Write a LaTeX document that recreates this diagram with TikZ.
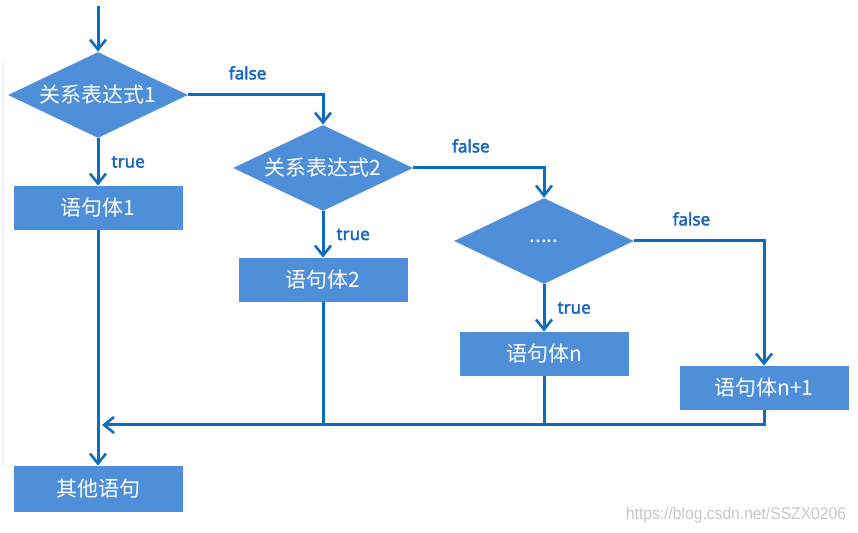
\documentclass[tikz,border=0pt]{standalone}
\usepackage{fontspec}
\setmainfont{Noto Sans CJK SC}
\newfontfamily\labfont{Noto Sans}[AutoFakeBold=2.5]
\newfontfamily\wmfont{Liberation Sans}
\usetikzlibrary{shapes,shapes.geometric,arrows.meta,calc}
\definecolor{boxblue}{HTML}{4F8ED8}
\definecolor{lineblue}{HTML}{0F6CC0}
\definecolor{labblue}{HTML}{1767C2}
\begin{document}
\begin{tikzpicture}
        [x=0.5pt,y=-0.5pt,
        every node/.style={inner sep=0pt,text=white,font=\fontsize{10.5pt}{12pt}\selectfont},
        decision/.style={shape=diamond,fill=boxblue,minimum width=90pt,minimum height=43pt,aspect=2.1},
        stmt/.style={shape=rectangle,fill=boxblue,minimum width=84.5pt,minimum height=22pt},
        flow/.style={draw=lineblue,line width=1.5pt,-{Straight Barb[length=5pt,width=8pt,line width=1.3pt]}},
        wire/.style={draw=lineblue,line width=1.5pt},
        lab/.style={text=labblue,font=\labfont\bfseries\fontsize{8.5pt}{10pt}\selectfont}]
        \useasboundingbox (0,0) rectangle (858,533);
        \draw[color=blue!6,line width=1pt] (3,62) -- (3,466);
        %%
        \coordinate (start) at (98,6);
        \node[decision] (d1) at (98,95) {关系表达式1};
        \node[stmt] (b1) at (98,208) {语句体1};
        %%
        \node[decision] (d2) at (323,168) {关系表达式2};
        \node[stmt] (b2) at (323,280) {语句体2};
        %%
        \node[decision] (d3) at (544,241) {.....};
        \node[stmt] (b3) at (544,354) {语句体n};
        \node[stmt] (b4) at (764,388) {语句体n+1};
        %%
        \node[stmt,minimum height=23pt] (b5) at (98,489) {其他语句};
        \coordinate (join) at (102,425);
        %%
        \draw[flow] (start) -- (d1.north);
        \path
        \foreach \fromNode/\toNode in {d1/b1, d2/b2, d3/b3}
        {
          (\fromNode.south) edge[flow] node[lab,right=6pt] {true} (\toNode.north)
        };
        \path
        \foreach \fromNode/\toNode in {d1/d2, d2/d3, d3/b4}
        {
          (\fromNode.east) edge[flow,to path={-| (\tikztotarget) \tikztonodes}]
            node[lab,above=7pt,pos=0.22] {false} (\toNode.north)
        };
        %%
        \draw[flow] (b4.south) |- (join);
        \draw[wire] (b2.south) -- (b2.south |- join);
        \draw[wire] (b3.south) -- (b3.south |- join);
        \draw[flow] (b1.south) -- (b5.north);
        %%
        \node[text=black!22,font=\wmfont\fontsize{8.5pt}{10pt}\selectfont,xscale=0.92] (wm) at (736,515) {https://blog.csdn.net/SSZX0206};
        \end{tikzpicture}
\end{document}
